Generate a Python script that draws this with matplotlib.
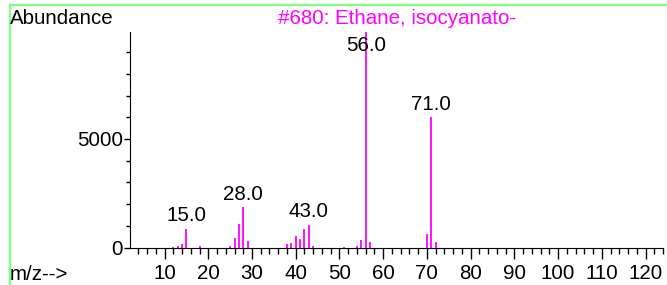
import matplotlib
matplotlib.use("Agg")
import matplotlib.pyplot as plt
from matplotlib.ticker import MultipleLocator
from matplotlib.lines import Line2D

plt.rcParams['font.family'] = ['Liberation Sans', 'DejaVu Sans']

# spectrum data (m/z, abundance)
mz = [12, 13, 14, 15, 18, 25, 26, 27, 28, 29,
      38, 39, 40, 41, 42, 43, 44, 51, 54, 55, 56, 57, 70, 71, 72]
abundance = [40, 60, 170, 860, 80, 50, 420, 1100, 1860, 320,
             150, 190, 520, 380, 850, 1050, 90, 30, 80, 335, 9930, 260, 600, 6000, 245]
labeled = [15, 28, 43, 56, 71]
title = "#680: Ethane, isocyanato-"

fs = 14.8
fig = plt.figure(figsize=(6.67, 2.85), dpi=100)
ax = fig.add_axes([130 / 667, 1 - 247.5 / 285, 533 / 667, 215.5 / 285])

ax.vlines(mz, 0, abundance, colors='#ff00ff', linewidth=1.3)

ax.set_xlim(2.1, 124)
ax.set_ylim(0, 9930)

for m in labeled:
    a = abundance[mz.index(m)]
    if a > 9000:
        ax.annotate(f"{m:.1f}", (m, ax.get_ylim()[1]), xytext=(0, -3),
                    textcoords='offset points', ha='center', va='top',
                    fontsize=fs, color='black')
    else:
        ax.annotate(f"{m:.1f}", (m, a), xytext=(0, 2.5),
                    textcoords='offset points', ha='center', va='bottom',
                    fontsize=fs, color='black')

ax.spines['top'].set_visible(False)
ax.spines['right'].set_visible(False)

ax.xaxis.set_major_locator(MultipleLocator(10))
ax.xaxis.set_minor_locator(MultipleLocator(2))
ax.yaxis.set_major_locator(MultipleLocator(5000))
ax.yaxis.set_minor_locator(MultipleLocator(1000))
ax.tick_params(axis='x', which='major', length=8, width=1, pad=4, labelsize=fs)
ax.tick_params(axis='x', which='minor', length=4, width=1)
ax.tick_params(axis='y', which='major', length=4, width=1, pad=1, labelsize=fs)
ax.tick_params(axis='y', which='minor', length=3, width=1)
ax.xaxis.set_major_formatter(plt.FuncFormatter(lambda v, p: "" if v == 0 else f"{v:.0f}"))

fig.text(10 / 667, 1 - 18 / 285, "Abundance", fontsize=fs, va='center', ha='left')
fig.text(10 / 667, 1 - 275 / 285, "m/z-->", fontsize=fs, va='center', ha='left')
fig.text(397 / 667, 1 - 19 / 285, title, fontsize=fs, va='center', ha='center',
         color='#ff00ff')

# green frame lines
fig.add_artist(Line2D([9.5 / 667, 1], [1 - 5 / 285, 1 - 5 / 285],
                      transform=fig.transFigure, color='#80ff80', linewidth=1.6))
fig.add_artist(Line2D([9.5 / 667, 9.5 / 667], [0, 1 - 5 / 285],
                      transform=fig.transFigure, color='#80ff80', linewidth=1.6))

fig.savefig("out.png", dpi=100)
